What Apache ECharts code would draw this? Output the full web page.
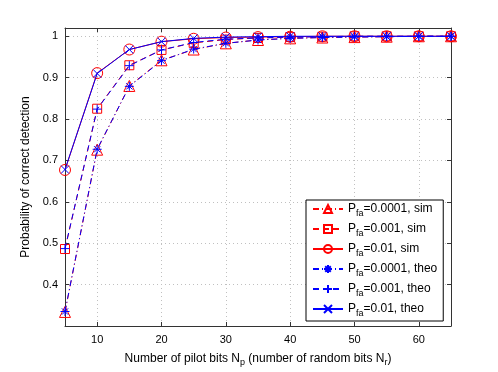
<!DOCTYPE html>
<html>
<head>
<meta charset="utf-8">
<script src="https://cdn.jsdelivr.net/npm/echarts@6/dist/echarts.min.js"></script>
<style>
  html, body { margin: 0; padding: 0; background: #fff; }
  #chart { width: 498px; height: 372px; }
</style>
</head>
<body>
<div id="chart"></div>
<script>
// 导频比特数
const pilotBits = [5, 10, 15, 20, 25, 30, 35, 40, 45, 50, 55, 60, 65]
const xTicks = [10, 20, 30, 40, 50, 60]
const yTicks = [0.4, 0.5, 0.6, 0.7, 0.8, 0.9, 1]

// 仿真
const sim0001 = [0.334, 0.726, 0.880, 0.942, 0.968, 0.983, 0.991, 0.995, 0.997, 0.998, 0.999, 1, 1]
const sim001 = [0.486, 0.825, 0.930, 0.967, 0.984, 0.992, 0.996, 0.998, 0.999, 1, 1, 1, 1]
const sim01 = [0.677, 0.911, 0.968, 0.987, 0.994, 0.997, 0.998, 0.999, 1, 1, 1, 1, 1]
// 理论
const theo0001 = [0.335, 0.727, 0.879, 0.941, 0.969, 0.983, 0.991, 0.995, 0.997, 0.998, 0.999, 1, 1]
const theo001 = [0.487, 0.824, 0.929, 0.967, 0.985, 0.993, 0.996, 0.998, 0.999, 1, 1, 1, 1]
const theo01 = [0.678, 0.910, 0.968, 0.987, 0.995, 0.998, 0.999, 1, 1, 1, 1, 1, 1]

const seriesNames = ['0.0001, sim', '0.001, sim', '0.01, sim', '0.0001, theo', '0.001, theo', '0.01, theo']

const RED = '#ff0000'
const BLUE = '#0000ff'
const FONT = 'Liberation Sans'
const DASH = [6, 4]
const DASHDOT = [6, 3, 1, 3]

const SYM_PLUS = 'path://M5,0 L5,10 M0,5 L10,5'
const SYM_X = 'path://M0,0 L10,10 M0,10 L10,0'
const SYM_STAR = 'path://M5,0 L5,10 M0,5 L10,5 M1.5,1.5 L8.5,8.5 M1.5,8.5 L8.5,1.5'
const SYM_SQ = 'path://M0,0 L10,0 L10,10 L0,10 Z'

function pairs(vals) {
    return pilotBits.map((x, i) => [x, vals[i]])
}

function mk(name, vals, color, lineType, symbol, size, z) {
    return {
        name,
        type: 'line',
        data: pairs(vals),
        symbol,
        symbolSize: size,
        showAllSymbol: true,
        lineStyle: { color, width: 1, type: lineType },
        itemStyle: { color: 'rgba(0,0,0,0)', borderColor: color, borderWidth: 1 },
        emphasis: { disabled: true },
        animation: false,
        z,
    }
}

const chart = echarts.init(document.getElementById('chart'), null, { renderer: 'canvas' })

const axisCommon = {
    type: 'value',
    axisLine: { show: true, onZero: false, lineStyle: { color: '#333', width: 1 } },
    axisTick: { show: true, inside: true, length: 4, lineStyle: { color: '#333' } },
}

chart.setOption({
    backgroundColor: '#fff',
    textStyle: { fontFamily: FONT },
    grid: { left: 65, right: 47, top: 28, bottom: 42 },
    xAxis: [
        {
            ...axisCommon,
            min: 5, max: 65,
            axisTick: { ...axisCommon.axisTick, customValues: xTicks },
            axisLabel: { customValues: xTicks, color: '#000', fontSize: 11, fontFamily: FONT, margin: 8 },
            splitLine: { show: true, lineStyle: { color: '#c0c0c0', type: [1, 3] } },
            name: 'Number of pilot bits N{s|p} (number of random bits N{s|r})',
            nameLocation: 'middle',
            nameGap: 24,
            nameTextStyle: {
                color: '#000', fontSize: 12, fontFamily: FONT,
                rich: { s: { fontSize: 9, fontFamily: FONT, color: '#000', padding: [8, 0, 0, 0] } },
            },
        },
        {
            ...axisCommon,
            position: 'top',
            min: 5, max: 65,
            axisTick: { ...axisCommon.axisTick, customValues: xTicks },
            axisLabel: { show: false },
            splitLine: { show: false },
        },
    ],
    yAxis: [
        {
            ...axisCommon,
            min: 0.3, max: 1.02,
            axisTick: { ...axisCommon.axisTick, customValues: yTicks },
            axisLabel: { customValues: yTicks, color: '#000', fontSize: 11, fontFamily: FONT, margin: 7 },
            splitLine: { show: true, lineStyle: { color: '#c0c0c0', type: [1, 3] } },
            name: 'Probability of correct detection',
            nameLocation: 'middle',
            nameGap: 32,
            nameTextStyle: { color: '#000', fontSize: 12, fontFamily: FONT },
        },
        {
            ...axisCommon,
            position: 'right',
            min: 0.3, max: 1.02,
            axisTick: { ...axisCommon.axisTick, customValues: yTicks },
            axisLabel: { show: false },
            splitLine: { show: false },
        },
    ],
    legend: {
        orient: 'vertical',
        left: 306,
        top: 200,
        width: 139,
        padding: [3, 6, 3, 6],
        itemWidth: 30,
        itemHeight: 10,
        itemGap: 5,
        backgroundColor: '#fff',
        borderColor: '#000',
        borderWidth: 1,
        borderRadius: 0,
        data: seriesNames,
        formatter: (name) => `{a|P}{s|fa}{a|=${name}}`,
        textStyle: {
            color: '#000',
            rich: {
                a: { fontSize: 12, fontFamily: FONT, color: '#000', lineHeight: 18, verticalAlign: 'middle' },
                s: { fontSize: 9, fontFamily: FONT, color: '#000', lineHeight: 8, verticalAlign: 'bottom' },
            },
        },
        selectedMode: false,
    },
    series: [
        mk(seriesNames[0], sim0001, RED, DASHDOT, 'triangle', 11, 2),
        mk(seriesNames[1], sim001, RED, DASH, SYM_SQ, 9, 2),
        mk(seriesNames[2], sim01, RED, 'solid', 'circle', 11, 2),
        mk(seriesNames[3], theo0001, BLUE, DASHDOT, SYM_STAR, 9, 3),
        mk(seriesNames[4], theo001, BLUE, DASH, SYM_PLUS, 9, 3),
        mk(seriesNames[5], theo01, BLUE, 'solid', SYM_X, 8, 3),
    ],
})
</script>
</body>
</html>
